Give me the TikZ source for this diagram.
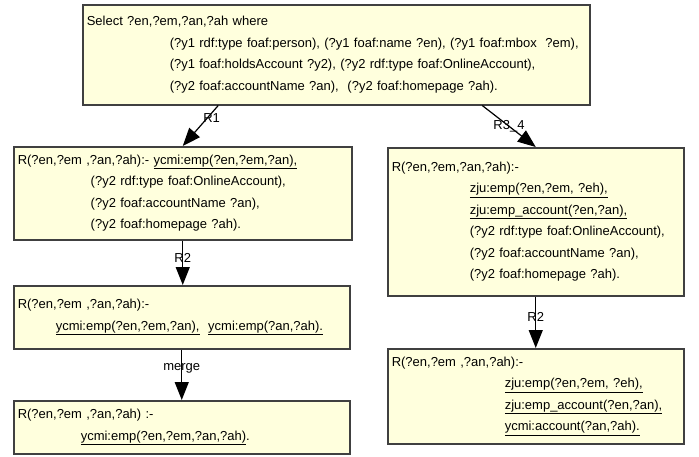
\documentclass[tikz,border=0pt]{standalone}
\usepackage{fontspec}
\setmainfont{Liberation Sans}
\usetikzlibrary{arrows.meta}

\definecolor{boxfill}{RGB}{255,255,221}
\definecolor{boxline}{RGB}{64,64,64}

\tikzset{
    rule/.style={draw=boxline, line width=1.5pt, fill=boxfill, anchor=north west,
        align=left, inner xsep=4pt, inner ysep=0pt,
        font=\fontsize{13}{21.5}\selectfont},
    link/.style={-{Triangle[length=18pt,width=14pt]}, line width=1.2pt},
    tag/.style={font=\fontsize{13}{14}\selectfont, inner sep=0pt}
}

\begin{document}
\begin{tikzpicture}[x=1pt, y=-1pt]
    \useasboundingbox (0,0) rectangle (699,456);

    % Query
    \node[rule, minimum width=507pt, minimum height=100pt, text width=499pt] (query) at (82,4)
    {Select ?en,?em,?an,?ah where\\
     \hspace*{83pt}(?y1 rdf:type foaf:person), (?y1 foaf:name ?en), (?y1 foaf:mbox\ \ ?em),\\
     \hspace*{83pt}(?y1 foaf:holdsAccount ?y2), (?y2 rdf:type foaf:OnlineAccount),\\
     \hspace*{83pt}(?y2 foaf:accountName ?an),\ \ (?y2 foaf:homepage ?ah).};

    % Left branch: R1, then R2, then merge
    \node[rule, minimum width=338pt, minimum height=93pt, text width=330pt] (byR1) at (13,146)
    {R(?en,?em ,?an,?ah):- \underline{ycmi:emp(?en,?em,?an),}\\
     \hspace*{73pt}(?y2 rdf:type foaf:OnlineAccount),\\
     \hspace*{73pt}(?y2 foaf:accountName ?an),\\
     \hspace*{73pt}(?y2 foaf:homepage ?ah).};
    \node[rule, minimum width=336pt, minimum height=63pt, text width=328pt] (byR1R2) at (13,285)
    {R(?en,?em ,?an,?ah):-\\
     \hspace*{38pt}\underline{ycmi:emp(?en,?em,?an),}\ \ \underline{ycmi:emp(?an,?ah).}};
    \node[rule, minimum width=336pt, minimum height=53pt, text width=328pt] (merged) at (13,400)
    {R(?en,?em ,?an,?ah) :-\\
     \hspace*{63pt}\underline{ycmi:emp(?en,?em,?an,?ah)}.};

    % Right branch: R3_4, then R2
    \node[rule, minimum width=296pt, minimum height=148pt, text width=288pt] (byR34) at (387,147)
    {R(?en,?em,?an,?ah):-\\
     \hspace*{78pt}\underline{zju:emp(?en,?em, ?eh),}\\
     \hspace*{78pt}\underline{zju:emp\_account(?en,?an),}\\
     \hspace*{78pt}(?y2 rdf:type foaf:OnlineAccount),\\
     \hspace*{78pt}(?y2 foaf:accountName ?an),\\
     \hspace*{78pt}(?y2 foaf:homepage ?ah).};
    \node[rule, minimum width=296pt, minimum height=95pt, text width=288pt] (byR34R2) at (387,348)
    {R(?en,?em ,?an,?ah):-\\
     \hspace*{113pt}\underline{zju:emp(?en,?em, ?eh),}\\
     \hspace*{113pt}\underline{zju:emp\_account(?en,?an),}\\
     \hspace*{113pt}\underline{ycmi:account(?an,?ah).}};

    % Rewriting steps
    \draw[link] ([xshift=-118pt]query.south) -- (byR1.north)
        node[tag, pos=0.3, xshift=4pt] {R1};
    \draw[link] ([xshift=146pt]query.south) -- (byR34.north)
        node[tag, midway] {R3\_4};
    \draw[link] (byR1.south) -- (byR1.south |- byR1R2.north)
        node[tag, pos=0.4] {R2};
    \draw[link] (byR1R2.south) -- (byR1R2.south |- merged.north)
        node[tag, pos=0.38] {merge};
    \draw[link] (byR34.south) -- (byR34R2.north)
        node[tag, pos=0.4] {R2};

\end{tikzpicture}
\end{document}
